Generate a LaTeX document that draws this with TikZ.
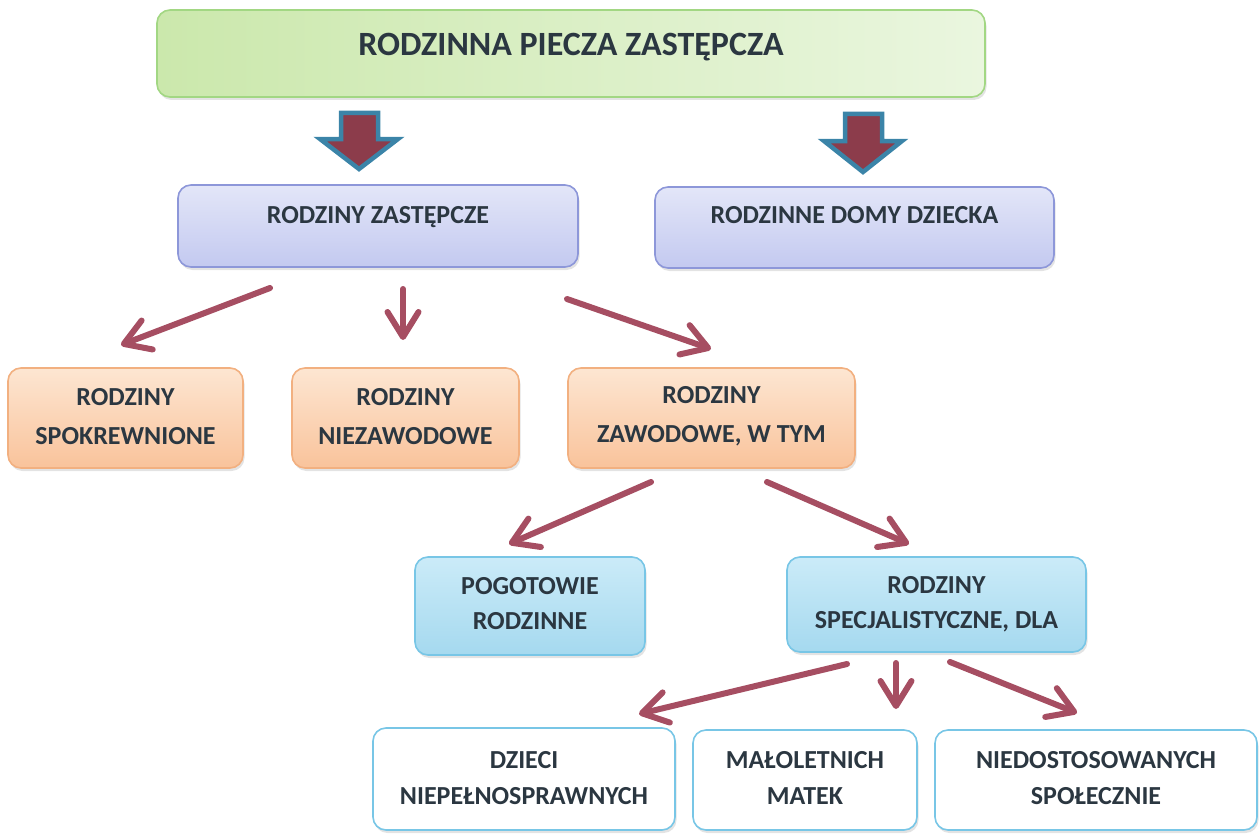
\documentclass[tikz,border=0pt]{standalone}
\usepackage{fontspec}
\setmainfont{Carlito}
\usetikzlibrary{arrows.meta,shadows}
\definecolor{txtc}{HTML}{2B3741}
\definecolor{connc}{HTML}{A64E62}
\definecolor{bigfill}{HTML}{8C3C4B}
\definecolor{bigline}{HTML}{3B84A8}
\definecolor{grA}{HTML}{CBE8AC}
\definecolor{grB}{HTML}{EAF6DF}
\definecolor{grL}{HTML}{A2D783}
\definecolor{laA}{HTML}{E3E6F8}
\definecolor{laB}{HTML}{C3C9F0}
\definecolor{laL}{HTML}{8D97D9}
\definecolor{orA}{HTML}{FDE6D2}
\definecolor{orB}{HTML}{F9C39B}
\definecolor{orL}{HTML}{F2B080}
\definecolor{cyA}{HTML}{CBEBF8}
\definecolor{cyB}{HTML}{A5D9EF}
\definecolor{cyL}{HTML}{78C6E6}
\begin{document}
\begin{tikzpicture}[x=1pt,y=-1pt,
  box/.style={rounded corners=13pt, line width=1.6pt, inner sep=0pt,
    drop shadow={shadow xshift=1.5pt, shadow yshift=-3pt, opacity=0.22}},
  greenbox/.style={box, draw=grL, left color=grA, right color=grB},
  lavbox/.style={box, draw=laL, top color=laA, bottom color=laB},
  orbox/.style={box, draw=orL, top color=orA, bottom color=orB},
  cybox/.style={box, draw=cyL, top color=cyA, bottom color=cyB},
  whbox/.style={box, draw=cyL, fill=white},
  txt/.style={font=\bfseries\fontsize{26}{38}\selectfont, text=txtc, align=center, inner sep=0pt},
  ttl/.style={font=\bfseries\fontsize{34}{40}\selectfont, text=txtc, inner sep=0pt},
  conn/.style={draw=connc, line width=6pt, line cap=round,
    -{Straight Barb[length=25pt,width=31pt,round]}},
  bigarrow/.style={fill=bigfill, draw=bigline, line width=4.5pt, line join=miter}
]
\useasboundingbox (0,0) rectangle (1260,840);

% boxes
\node[greenbox, minimum width=828pt, minimum height=87pt] (top) at (571,53.5) {};
\node[lavbox, minimum width=400pt, minimum height=82pt] (zast) at (378,226) {};
\node[lavbox, minimum width=399pt, minimum height=81pt] (domy) at (854.5,227.5) {};
\node[orbox, minimum width=235pt, minimum height=100pt] (spok) at (125.5,418) {};
\node[orbox, minimum width=227pt, minimum height=100pt] (niez) at (405.5,418) {};
\node[orbox, minimum width=287pt, minimum height=100pt] (zaw) at (711.5,418) {};
\node[cybox, minimum width=230pt, minimum height=98pt] (pog) at (530,606) {};
\node[cybox, minimum width=299pt, minimum height=95pt] (spec) at (936.5,604.5) {};
\node[whbox, minimum width=302pt, minimum height=102pt] (dzieci) at (524,779) {};
\node[whbox, minimum width=224pt, minimum height=100pt] (malo) at (805,780) {};
\node[whbox, minimum width=322pt, minimum height=100pt] (nied) at (1096,780) {};

% texts
\node[ttl, anchor=base] (topt) at (571,56) {RODZINNA PIECZA ZASTĘPCZA};
\node[txt, anchor=base] (zastt) at (378,223.5) {RODZINY ZASTĘPCZE};
\node[txt, anchor=base] (domyt) at (854.5,223.5) {RODZINNE DOMY DZIECKA};
\node[txt] (spokt) at (125.5,416.5) {RODZINY\\[1pt]SPOKREWNIONE};
\node[txt] (niezt) at (405.5,416.5) {RODZINY\\[1pt]NIEZAWODOWE};
\node[txt] (zawt) at (711.5,416.5) {RODZINY\\[1pt]ZAWODOWE, W TYM};
\node[txt] (pogt) at (530,603.5) {POGOTOWIE\\[-3pt]RODZINNE};
\node[txt] (spect) at (936.5,604) {RODZINY\\[-3pt]SPECJALISTYCZNE, DLA};
\node[txt] (dziecit) at (524,778) {DZIECI\\[-2pt]NIEPEŁNOSPRAWNYCH};
\node[txt] (malot) at (805,778) {MAŁOLETNICH\\[-2pt]MATEK};
\node[txt] (niedt) at (1096,778) {NIEDOSTOSOWANYCH\\[-2pt]SPOŁECZNIE};

% big arrows
\draw[bigarrow] (341,113) -- (378,113) -- (378,139) -- (398,139) -- (359,169)
  -- (320,139) -- (341,139) -- cycle;
\draw[bigarrow] (845,114) -- (882,114) -- (882,141) -- (902,141) -- (863,172)
  -- (824,141) -- (845,141) -- cycle;

% connector end points
\coordinate (a1s) at (270,288);
\coordinate (a1e) at (121,345);
\coordinate (a2s) at (403,289);
\coordinate (a2e) at (403,340);
\coordinate (a3s) at (567,299);
\coordinate (a3e) at (711,349);
\coordinate (b1s) at (651,482);
\coordinate (b1e) at (509,544);
\coordinate (b2s) at (767,482);
\coordinate (b2e) at (909,544);
\coordinate (c1s) at (847,664);
\coordinate (c1e) at (639,714);
\coordinate (c2s) at (896,663);
\coordinate (c2e) at (896,709);
\coordinate (c3s) at (950,662);
\coordinate (c3e) at (1077,713);

\draw[conn] (a1s) -- (a1e);
\draw[conn] (a2s) -- (a2e);
\draw[conn] (a3s) -- (a3e);
\draw[conn] (b1s) -- (b1e);
\draw[conn] (b2s) -- (b2e);
\draw[conn] (c1s) -- (c1e);
\draw[conn] (c2s) -- (c2e);
\draw[conn] (c3s) -- (c3e);
\end{tikzpicture}
\end{document}
